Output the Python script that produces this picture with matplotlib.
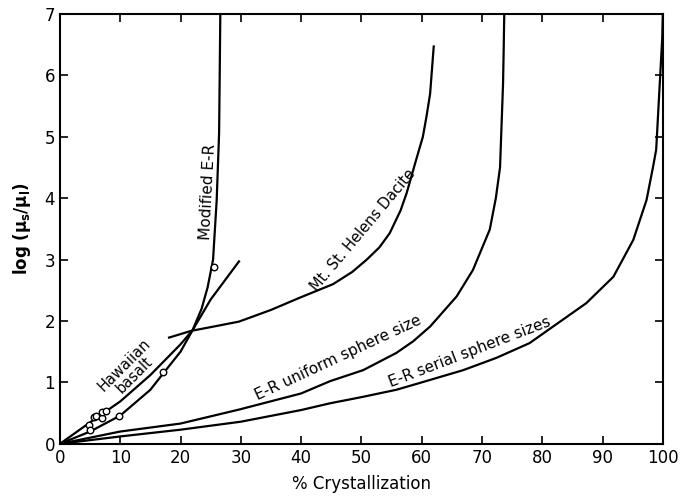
import matplotlib.pyplot as plt

plt.rcParams['mathtext.fontset'] = 'dejavusans'

# % crystallization vs log(mu_s/mu_l)
mod_er_x = [0, 5, 10, 15, 17, 20, 22, 23.5, 24.5, 25.4, 26.0, 26.4, 26.5, 26.6]
mod_er_y = [0, 0.2, 0.46, 0.88, 1.13, 1.5, 1.85, 2.2, 2.55, 3.0, 3.97, 5.06, 6.0, 7.0]

hawaii_x = [0, 5, 10, 15, 20, 22, 25, 29.7]
hawaii_y = [0, 0.35, 0.69, 1.12, 1.62, 1.85, 2.35, 2.97]

dacite_x = [18.1, 21.8, 25, 29.7, 35, 39.8, 45.3, 48.5, 50.9, 53, 54.7, 56.5, 57.5, 59.1, 60.2, 60.8, 61.4, 62.0]
dacite_y = [1.73, 1.84, 1.9, 1.99, 2.18, 2.38, 2.6, 2.8, 3.0, 3.2, 3.43, 3.8, 4.08, 4.63, 5.0, 5.33, 5.7, 6.47]

unif_x = [0, 5, 10, 20, 29.8, 40, 44.8, 50.3, 55.8, 58.6, 61.4, 65.8, 68.5, 71.3, 72.3, 73.0, 73.5, 73.6, 73.7]
unif_y = [0, 0.1, 0.2, 0.33, 0.56, 0.82, 1.02, 1.2, 1.48, 1.67, 1.91, 2.4, 2.83, 3.49, 4.0, 4.5, 5.87, 6.4, 7.0]

serial_x = [0, 5, 10, 20, 30, 40, 44.8, 50, 55.8, 60, 66.9, 72.4, 77.9, 81.8, 87.3, 91.8, 95.1, 97.3, 98.4, 98.9, 99.5, 99.9, 100]
serial_y = [0, 0.06, 0.12, 0.23, 0.36, 0.55, 0.66, 0.76, 0.88, 1.0, 1.2, 1.4, 1.64, 1.91, 2.29, 2.72, 3.32, 3.97, 4.52, 4.79, 5.88, 6.6, 7.0]

obs_x = [4.9, 5.0, 5.7, 6.0, 6.9, 7.0, 7.7, 9.8, 17.1, 25.5]
obs_y = [0.31, 0.22, 0.43, 0.45, 0.42, 0.52, 0.54, 0.46, 1.17, 2.88]

xticks = [0, 10, 20, 30, 40, 50, 60, 70, 80, 90, 100]
yticks = [0, 1, 2, 3, 4, 5, 6, 7]

fig = plt.figure(figsize=(6.89, 4.97), dpi=100)
ax = fig.add_axes([0.087, 0.107, 0.875, 0.865])

lw = 1.6
ax.plot(mod_er_x, mod_er_y, color='black', lw=lw)
ax.plot(hawaii_x, hawaii_y, color='black', lw=lw)
ax.plot(dacite_x, dacite_y, color='black', lw=lw)
ax.plot(unif_x, unif_y, color='black', lw=lw)
ax.plot(serial_x, serial_y, color='black', lw=lw)
ax.scatter(obs_x, obs_y, s=22, facecolors='white', edgecolors='black', linewidths=1.0, zorder=3)

ax.set_xlim(0, 100)
ax.set_ylim(0, 7)
ax.set_xticks(xticks)
ax.set_yticks(yticks)
ax.tick_params(direction='in', length=6, width=1.2, top=True, right=True, labelsize=12)
for s in ax.spines.values():
    s.set_linewidth(1.5)

ax.set_xlabel('% Crystallization', fontsize=12, labelpad=6)
ax.set_ylabel(r'$\mathbf{log\ (\mu_s/\mu_l)}$', fontsize=12, labelpad=8)

ax.text(24.6, 4.1, 'Modified E-R', rotation=87, fontsize=11, ha='center', va='center')
ax.text(50.2, 3.48, 'Mt. St. Helens Dacite', rotation=50, fontsize=10.5, ha='center', va='center')
ax.text(11.5, 1.2, 'Hawaiian\nbasalt', rotation=45, fontsize=10.5, ha='center', va='center', linespacing=1.0)
ax.text(46.1, 1.4, 'E-R uniform sphere size', rotation=25, fontsize=11, ha='center', va='center')
ax.text(68, 1.5, 'E-R serial sphere sizes', rotation=21, fontsize=11, ha='center', va='center')

fig.savefig('out.png', dpi=100)
